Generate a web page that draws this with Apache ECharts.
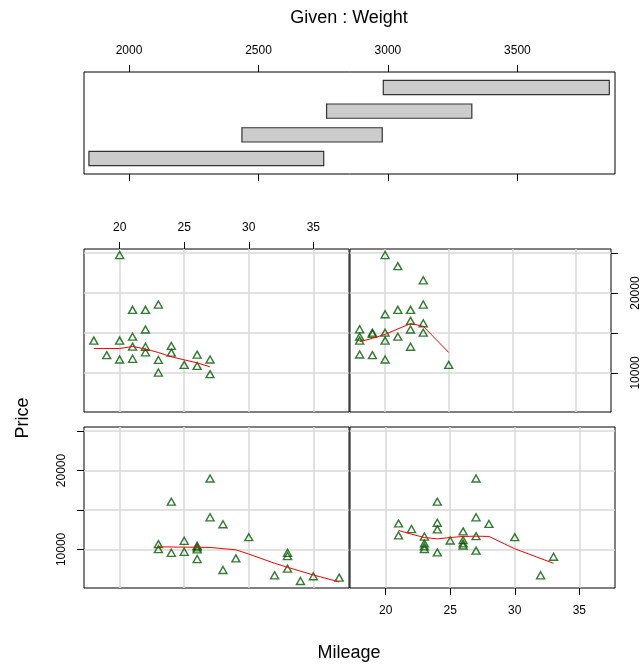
<!DOCTYPE html>
<html><head><meta charset="utf-8">
<script src="https://cdn.jsdelivr.net/npm/echarts@6/dist/echarts.min.js"></script>
<style>html,body{margin:0;padding:0;background:#fff}#c{width:642px;height:666px}</style>
</head><body><div id="c"></div>
<script>
// ---- data ----
const weightTicks = [2000, 2500, 3000, 3500];
const mileageTicks = [20, 25, 30, 35];
const priceTicks = [10000, 15000, 20000, 25000];
const priceTickLabels = [10000, 20000];
const intervalLow = [1845, 2436, 2763, 2982];
const intervalHigh = [2752, 2978, 3324, 3855];

// panel 1: bottom-left (lightest weights)
const panel1Points = [[27,18990],[24,16050],[27,14070],[28,13190],[30,11550],[23,10670],[23,10040],[24,9570],[25,11090],[25,9700],[26,10460],[26,10250],[26,10000],[26,8780],[28,7390],[29,8860],[32,6720],[33,9570],[33,9160],[33,7560],[34,6000],[35,6600],[37,6420]];
const panel1Smooth = [[23,10330],[25,10290],[27,10250],[29,9950],[30,9410],[32,8240],[33,7730],[35,6760],[37,5880]];
// panel 2: bottom-right
const panel2Points = [[27,18990],[24,16050],[27,14070],[28,13230],[21,13290],[21,11770],[22,12580],[24,13380],[24,12540],[23,11630],[23,10760],[23,10380],[23,10050],[24,9620],[25,11130],[26,12290],[26,11170],[26,10760],[26,10500],[27,11680],[27,9850],[30,11550],[33,9070],[32,6720]];
const panel2Smooth = [[21,12400],[22,11930],[23,11510],[24,11340],[25,11510],[26,11640],[27,11680],[28,11640],[30,10080],[33,8240]];
// panel 3: top-left
const panel3Points = [[20,24760],[21,17900],[22,17900],[23,18560],[22,15440],[18,14050],[20,14050],[21,14540],[21,13290],[22,13280],[22,12580],[19,12230],[20,11680],[21,11770],[23,11630],[23,10050],[24,13380],[24,12540],[25,11010],[26,12290],[26,10880],[27,11680],[27,9850]];
const panel3Smooth = [[18,13060],[20,13060],[21,13320],[22,12990],[23,12560],[24,12020],[25,11640],[26,11260],[27,10760]];
// panel 4: top-right (heaviest weights)
const panel4Points = [[20,24760],[21,23370],[23,21600],[23,18560],[21,17900],[22,17900],[20,17350],[22,16520],[23,16220],[22,15440],[23,15040],[18,15460],[18,14540],[18,14050],[19,15040],[19,14900],[20,15040],[20,14050],[21,14540],[22,13280],[18,12310],[19,12230],[20,11680],[25,11010]];
const panel4Smooth = [[18,13910],[19,14330],[20,14830],[21,15510],[22,16180],[23,15840],[25,12560]];

// ---- chart ----
const FONT = 'Liberation Sans, Arial, sans-serif';
const MIL_MIN = 17.24, MIL_MAX = 37.76;
const PR_MIN = 5110, PR_MAX = 25516;

function axis(gridIndex, min, max, position, ticks, showTicks, labelValues, margin, rotate, split) {
  return {
    type: 'value', gridIndex, min, max, position,
    axisLine: { show: false, onZero: false },
    axisTick: { show: showTicks, inside: false, length: 7, customValues: ticks, lineStyle: { color: '#000', width: 1 } },
    axisLabel: { show: !!labelValues, customValues: labelValues || ticks, margin: margin || 8, rotate: rotate || 0,
                 color: '#000', fontSize: 12, fontFamily: FONT, formatter: v => String(v) },
    splitLine: { show: split, lineStyle: { color: '#d9d9d9', width: 1.5 } }
  };
}

const gridBox = { show: true, borderColor: '#000', borderWidth: 1, backgroundColor: 'transparent', containLabel: false };
const grids = [
  Object.assign({ left: 84, top: 72, width: 531, height: 102 }, gridBox),
  Object.assign({ left: 84, top: 427, width: 265, height: 161 }, gridBox),
  Object.assign({ left: 350, top: 427, width: 265, height: 161 }, gridBox),
  Object.assign({ left: 84, top: 249, width: 265, height: 163 }, gridBox),
  Object.assign({ left: 350, top: 249, width: 265, height: 163 }, gridBox)
];

const xAxes = [
  axis(0, 1826, 3877, 'top', weightTicks, true, weightTicks, 15, 0, false),
  axis(0, 1826, 3877, 'bottom', weightTicks, true, null, 8, 0, false),
  axis(1, MIL_MIN, MIL_MAX, 'bottom', mileageTicks, false, null, 8, 0, true),
  axis(2, MIL_MIN, MIL_MAX, 'bottom', mileageTicks, true, mileageTicks, 17, 0, true),
  axis(3, MIL_MIN, MIL_MAX, 'top', mileageTicks, true, mileageTicks, 15, 0, true),
  axis(4, MIL_MIN, MIL_MAX, 'bottom', mileageTicks, false, null, 8, 0, true)
];
const yAxes = [
  { type: 'value', gridIndex: 0, min: 0.35, max: 4.65, show: false },
  axis(1, PR_MIN, PR_MAX, 'left', priceTicks, true, priceTickLabels, 16, 90, true),
  axis(2, PR_MIN, PR_MAX, 'left', priceTicks, false, null, 8, 0, true),
  axis(3, PR_MIN, PR_MAX, 'left', priceTicks, false, null, 8, 0, true),
  axis(4, PR_MIN, PR_MAX, 'right', priceTicks, true, priceTickLabels, 19, 90, true)
];

const panels = [
  { pts: panel1Points, sm: panel1Smooth, x: 2, y: 1 },
  { pts: panel2Points, sm: panel2Smooth, x: 3, y: 2 },
  { pts: panel3Points, sm: panel3Smooth, x: 4, y: 3 },
  { pts: panel4Points, sm: panel4Smooth, x: 5, y: 4 }
];

const series = [{
  type: 'custom', xAxisIndex: 0, yAxisIndex: 0,
  data: intervalLow.map((lo, i) => [lo, intervalHigh[i], i + 1]),
  renderItem: function (params, api) {
    const row = api.value(2);
    const p1 = api.coord([api.value(0), row + 0.3]);
    const p2 = api.coord([api.value(1), row - 0.3]);
    return { type: 'rect', shape: { x: p1[0], y: p1[1], width: p2[0] - p1[0], height: p2[1] - p1[1] },
             style: { fill: '#cccccc', stroke: '#333333', lineWidth: 1.2 } };
  },
  silent: true
}];
panels.forEach(p => {
  series.push({
    type: 'scatter', xAxisIndex: p.x, yAxisIndex: p.y, data: p.pts,
    symbol: 'triangle', symbolSize: [8, 7],
    itemStyle: { color: 'rgba(0,0,0,0)', borderColor: '#005a00', borderWidth: 1.4 },
    silent: true, z: 3
  });
  series.push({
    type: 'line', xAxisIndex: p.x, yAxisIndex: p.y, data: p.sm,
    showSymbol: false, symbol: 'none', lineStyle: { color: '#ff0000', width: 1 },
    silent: true, z: 4
  });
});

const chart = echarts.init(document.getElementById('c'), null, { renderer: 'canvas' });
chart.setOption({
  animation: false,
  backgroundColor: '#ffffff',
  textStyle: { fontFamily: FONT },
  grid: grids,
  xAxis: xAxes,
  yAxis: yAxes,
  series: series,
  graphic: [
    { type: 'text', x: 349, y: 18, style: { text: 'Given : Weight', font: '18px ' + FONT, fill: '#000', align: 'center', verticalAlign: 'middle' } },
    { type: 'text', x: 349, y: 653, style: { text: 'Mileage', font: '18px ' + FONT, fill: '#000', align: 'center', verticalAlign: 'middle' } },
    { type: 'text', x: 23, y: 418, rotation: Math.PI / 2, style: { text: 'Price', font: '18px ' + FONT, fill: '#000', align: 'center', verticalAlign: 'middle' } }
  ]
});
</script>
</body></html>
